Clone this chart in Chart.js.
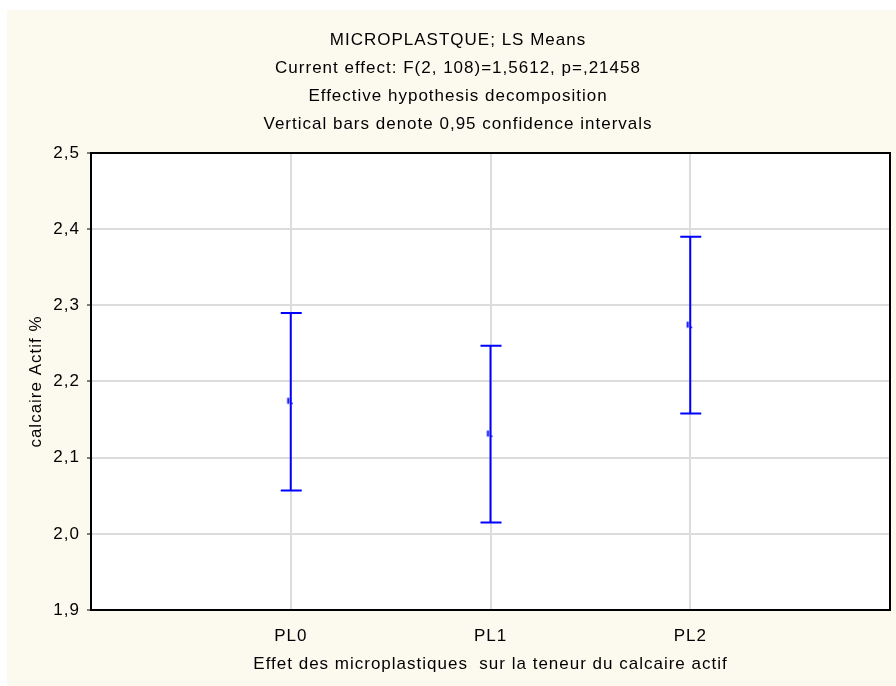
<!DOCTYPE html>
<html>
<head>
<meta charset="utf-8">
<script src="https://cdn.jsdelivr.net/npm/chart.js@4.4.1/dist/chart.umd.min.js"></script>
<style>
    html, body { margin: 0; padding: 0; background: #ffffff; }
    #wrap { position: absolute; left: 7px; top: 10px; width: 889px; height: 676px; background: #fcf9ef; }
</style>
</head>
<body>
<div id="wrap"><canvas id="lsChart" width="889" height="676"></canvas></div>
<script>
// données
const categories = ['PL0', 'PL1', 'PL2'];
const means = [2.174, 2.131, 2.274];
const ciLower = [2.057, 2.015, 2.158];
const ciUpper = [2.290, 2.247, 2.390];
const yTicks = [1.9, 2.0, 2.1, 2.2, 2.3, 2.4, 2.5];
const titleLines = [
    'MICROPLASTQUE; LS Means',
    'Current effect: F(2, 108)=1,5612, p=,21458',
    'Effective hypothesis decomposition',
    'Vertical bars denote 0,95 confidence intervals'
];
const xTitle = 'Effet des microplastiques  sur la teneur du calcaire actif';
const yTitle = 'calcaire Actif %';

const FONT = "'Liberation Sans', Arial, sans-serif";
const SIZE = 17;
const BLUE = '#0000ff';

// petit tiret de la moyenne, un peu à gauche de la barre (comme Statistica)
const meanMark = document.createElement('canvas');
meanMark.width = 10; meanMark.height = 10;
(c => {
    c.fillStyle = BLUE;
    c.fillRect(1.5, 1.5, 2, 6);
    c.fillRect(5.5, 6.5, 1.5, 1.5);
})(meanMark.getContext('2d'));

// espacement des lettres type Statistica
const spacing = {
    id: 'spacing',
    beforeUpdate(chart) { chart.ctx.letterSpacing = '1px'; },
    beforeRender(chart) { chart.ctx.letterSpacing = '1px'; }
};

// barres d'erreur (intervalles de confiance)
const errorBars = {
    id: 'errorBars',
    afterDatasetsDraw(chart) {
        const { ctx, scales: { x, y } } = chart;
        ctx.save();
        ctx.strokeStyle = BLUE;
        ctx.lineWidth = 2;
        categories.forEach((c, i) => {
            const px = x.getPixelForValue(i);
            const top = y.getPixelForValue(ciUpper[i]);
            const bot = y.getPixelForValue(ciLower[i]);
            ctx.beginPath();
            ctx.moveTo(px, top); ctx.lineTo(px, bot);
            ctx.moveTo(px - 10, top); ctx.lineTo(px + 11, top);
            ctx.moveTo(px - 10, bot); ctx.lineTo(px + 11, bot);
            ctx.stroke();
        });
        ctx.restore();
    }
};

// fond blanc + cadre noir de la zone de tracé
const plotFrame = {
    id: 'plotFrame',
    beforeDraw(chart) {
        const { ctx, chartArea: a } = chart;
        ctx.save();
        ctx.fillStyle = '#fff';
        ctx.fillRect(a.left, a.top, a.right - a.left, a.bottom - a.top);
        ctx.restore();
    },
    afterDraw(chart) {
        const { ctx, chartArea: a } = chart;
        ctx.save();
        ctx.strokeStyle = '#000';
        ctx.lineWidth = 2;
        ctx.strokeRect(a.left, a.top, a.right - a.left, a.bottom - a.top);
        ctx.restore();
    }
};

new Chart(document.getElementById('lsChart'), {
    type: 'scatter',
    data: {
        datasets: [{
            label: 'LS Means',
            data: means.map((m, i) => ({ x: i, y: m })),
            pointStyle: meanMark
        }]
    },
    options: {
        responsive: false,
        animation: false,
        layout: { padding: { left: 19, right: 6, top: 0, bottom: 0 } },
        plugins: {
            legend: { display: false },
            tooltip: { enabled: false },
            title: {
                display: true,
                text: titleLines,
                color: '#000',
                font: { family: FONT, size: SIZE, weight: 'normal', lineHeight: '28px' },
                padding: { top: 16, bottom: 15 }
            }
        },
        scales: {
            x: {
                type: 'linear',
                min: -1,
                max: 3,
                afterBuildTicks: s => { s.ticks = categories.map((c, i) => ({ value: i })); },
                afterFit: s => { s.height = 76; },
                ticks: {
                    callback: v => categories[v],
                    color: '#000',
                    font: { family: FONT, size: SIZE },
                    padding: 16
                },
                grid: { color: '#dcdcdc', lineWidth: 2, drawTicks: false },
                border: { display: false },
                title: {
                    display: true,
                    text: xTitle,
                    color: '#000',
                    font: { family: FONT, size: SIZE },
                    padding: { top: 0, bottom: 11 }
                }
            },
            y: {
                min: 1.9,
                max: 2.5,
                afterBuildTicks: s => { s.ticks = yTicks.map(v => ({ value: v })); },
                afterFit: s => { s.width = 65; },
                ticks: {
                    callback: v => v.toFixed(1).replace('.', ','),
                    color: '#000',
                    font: { family: FONT, size: SIZE },
                    padding: 7
                },
                grid: { color: '#dcdcdc', lineWidth: 2, tickLength: 4, tickColor: '#000', tickWidth: 1 },
                border: { display: false },
                title: {
                    display: true,
                    text: yTitle,
                    color: '#000',
                    font: { family: FONT, size: SIZE },
                    padding: { top: 0, bottom: 0 }
                }
            }
        }
    },
    plugins: [spacing, plotFrame, errorBars]
});
</script>
</body>
</html>
